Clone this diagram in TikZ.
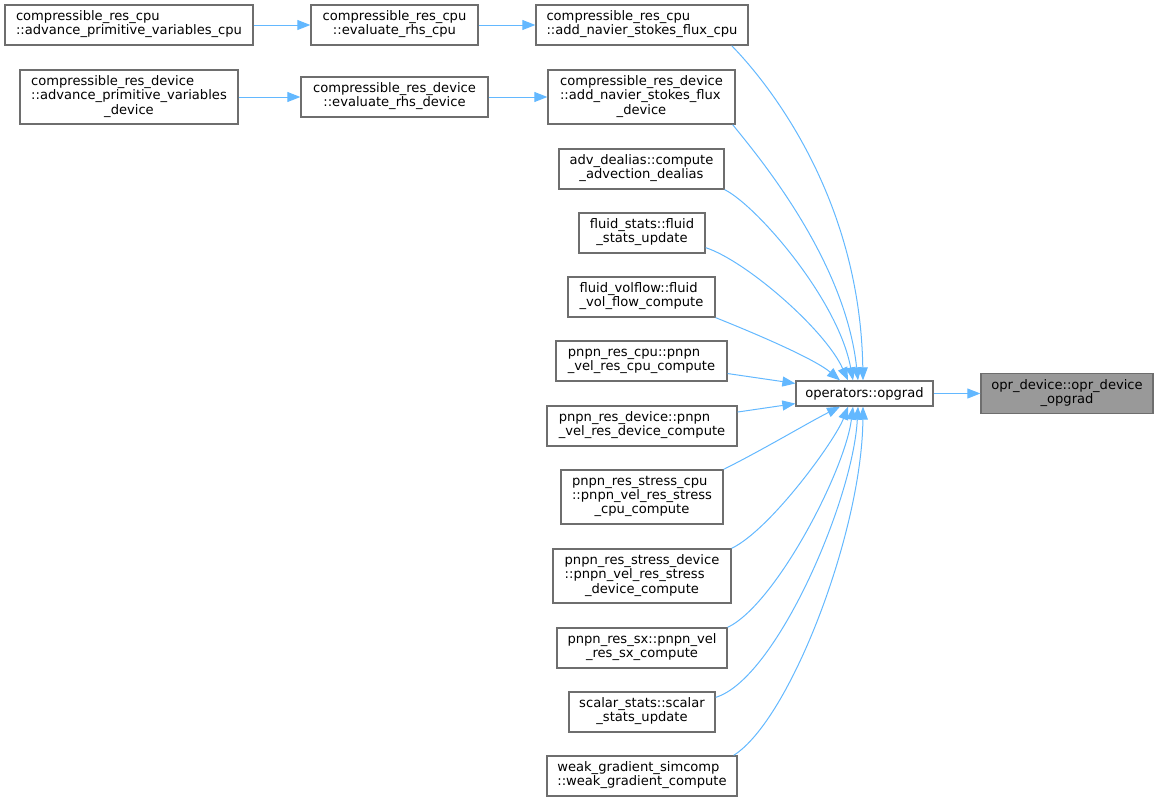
\documentclass[tikz,border=0pt]{standalone}
\usepackage{fontspec}
\setmainfont{DejaVu Sans}
\usetikzlibrary{arrows.meta,positioning}
\definecolor{callblue}{HTML}{63B8FF}
\definecolor{boxgray}{HTML}{6E6E6E}
\definecolor{rootgray}{HTML}{999999}
\newcommand{\twolines}[2]{\begin{tabular}{@{}l@{}}#1\\\multicolumn{1}{@{}c@{}}{#2}\end{tabular}}
\newcommand{\threelines}[3]{\begin{tabular}{@{}l@{}}#1\\#2\\\multicolumn{1}{@{}c@{}}{#3}\end{tabular}}

\begin{document}
\begin{tikzpicture}[x=1pt, y=-1pt,
    box/.style={draw=boxgray, fill=white, line width=1.3pt, inner sep=0pt,
      minimum height=40pt, font=\fontsize{13.1}{14}\selectfont},
    root/.style={box, fill=rootgray},
    call/.style={draw=callblue, line width=1pt, -{Triangle[length=13pt,width=10pt]}}]
    \useasboundingbox (0,0) rectangle (1159,801);
    \node (advCpu) [box, minimum width=248pt] at (129,25) {\twolines{compressible\_res\_cpu}{::advance\_primitive\_variables\_cpu}};
    \node (advDev) [box, minimum width=218pt, minimum height=54pt] at (129,97) {\threelines{compressible\_res\_device}{::advance\_primitive\_variables}{\_device}};
    \node (rhsCpu) [box, minimum width=167pt] at (394.5,25) {\twolines{compressible\_res\_cpu}{::evaluate\_rhs\_cpu}};
    \node (rhsDev) [box, minimum width=187pt] at (394.5,97) {\twolines{compressible\_res\_device}{::evaluate\_rhs\_device}};
    \node (fluxCpu) [box, minimum width=212pt] at (642,25) {\twolines{compressible\_res\_cpu}{::add\_navier\_stokes\_flux\_cpu}};
    \node (fluxDev) [box, minimum width=187pt, minimum height=54pt] at (641.5,97) {\threelines{compressible\_res\_device}{::add\_navier\_stokes\_flux}{\_device}};
    \node (advDealias) [box, minimum width=165pt] at (641.5,169) {\twolines{adv\_dealias::compute}{\_advection\_dealias}};
    \node (fluidStats) [box, minimum width=126pt] at (642,233) {\twolines{fluid\_stats::fluid}{\_stats\_update}};
    \node (volFlow) [box, minimum width=147pt] at (641.5,297) {\twolines{fluid\_volflow::fluid}{\_vol\_flow\_compute}};
    \node (velCpu) [box, minimum width=171pt] at (641.5,361) {\twolines{pnpn\_res\_cpu::pnpn}{\_vel\_res\_cpu\_compute}};
    \node (velDev) [box, minimum width=190pt] at (642,426) {\twolines{pnpn\_res\_device::pnpn}{\_vel\_res\_device\_compute}};
    \node (stressCpu) [box, minimum width=162pt, minimum height=54pt] at (642,497) {\threelines{pnpn\_res\_stress\_cpu}{::pnpn\_vel\_res\_stress}{\_cpu\_compute}};
    \node (stressDev) [box, minimum width=178pt, minimum height=54pt] at (642,576) {\threelines{pnpn\_res\_stress\_device}{::pnpn\_vel\_res\_stress}{\_device\_compute}};
    \node (velSx) [box, minimum width=170pt] at (642,648) {\twolines{pnpn\_res\_sx::pnpn\_vel}{\_res\_sx\_compute}};
    \node (scalarStats) [box, minimum width=146pt] at (642,712) {\twolines{scalar\_stats::scalar}{\_stats\_update}};
    \node (weakGrad) [box, minimum width=190pt] at (642,776) {\twolines{weak\_gradient\_simcomp}{::weak\_gradient\_compute}};
    \node (opgrad) [box, minimum width=137pt, minimum height=25pt] at (864.5,393.5) {operators::opgrad};
    \node (oprOpgrad) [root, minimum width=172pt] at (1067,393.5) {\twolines{opr\_device::opr\_device}{\_opgrad}};
    \draw[call] (advCpu) -- (rhsCpu);
    \draw[call] (rhsCpu) -- (fluxCpu);
    \draw[call] (advDev) -- (rhsDev);
    \draw[call] (rhsDev) -- (fluxDev);
    \draw[call] ([xshift=-17pt]fluxCpu.south east) .. controls +(39,40) and +(-3,-181) .. ([xshift=-1.5pt]opgrad.north);
    \draw[call] ([xshift=-3pt]fluxDev.south east) .. controls +(25,31) and +(-13,-121) .. ([xshift=-6.5pt]opgrad.north);
    \draw[call] (advDealias.south east) .. controls +(32,16) and +(-15,-81) .. ([xshift=-11.5pt]opgrad.north);
    \draw[call] ([yshift=6pt]fluidStats.south east) .. controls +(40,13) and +(-23,-51) .. ([xshift=-16.5pt]opgrad.north);
    \draw[call] (volFlow.south east) .. controls +(45,18) and +(-25,-21) .. ([xshift=-24.5pt]opgrad.north);
    \draw[call] (velCpu) -- (opgrad);
    \draw[call] (velDev) -- (opgrad);
    \draw[call] (stressCpu.north east) .. controls +(40,-20) and +(-30,15) .. ([xshift=-24.5pt]opgrad.south);
    \draw[call] (stressDev.north east) .. controls +(39,-19) and +(-13,34) .. ([xshift=-16.5pt]opgrad.south);
    \draw[call] (velSx.north east) .. controls +(48,-23) and +(-8,64) .. ([xshift=-11.5pt]opgrad.south);
    \draw[call] ([yshift=-6pt]scalarStats.north east) .. controls +(60,-18) and +(-5,94) .. ([xshift=-6.5pt]opgrad.south);
    \draw[call] ([xshift=-4pt]weakGrad.north east) .. controls +(57,-36) and +(-1,124) .. ([xshift=-1.5pt]opgrad.south);
    \draw[call] (opgrad) -- (oprOpgrad);
\end{tikzpicture}
\end{document}
